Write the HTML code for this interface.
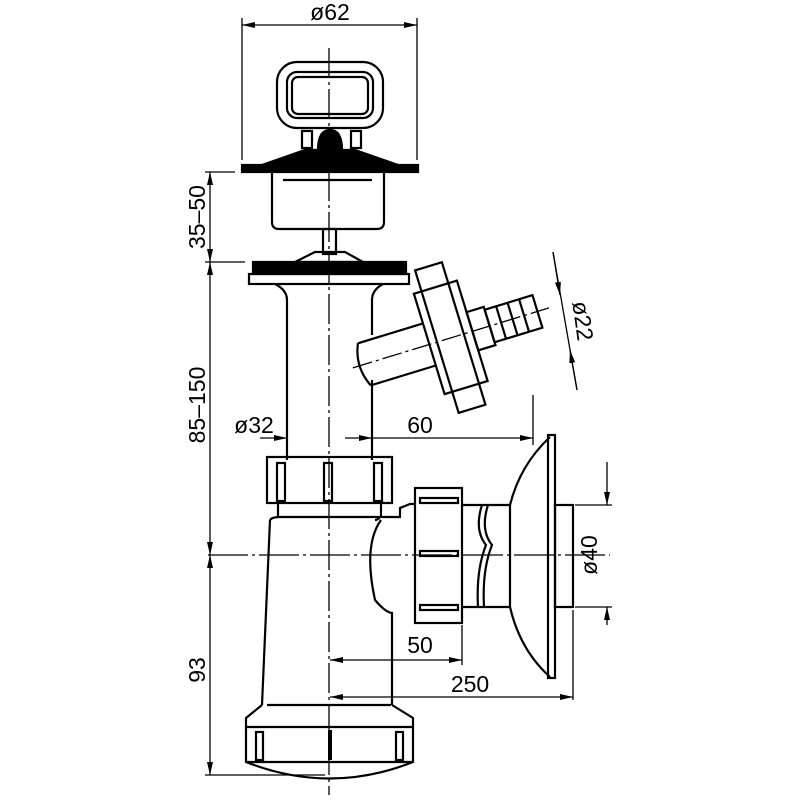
<!DOCTYPE html>
<html><head><meta charset="utf-8"><style>html,body{margin:0;background:#fff}svg{display:block}</style></head>
<body>
<svg width="800" height="800" viewBox="0 0 800 800" xmlns="http://www.w3.org/2000/svg" font-family="Liberation Sans, sans-serif">
<defs><marker id="a" markerWidth="13" markerHeight="6" refX="13" refY="3" orient="auto-start-reverse" markerUnits="userSpaceOnUse"><path d="M0,0 L13,3 L0,6z" fill="#000"/></marker></defs>
<g stroke="#000" fill="none" stroke-width="2.2">
<line x1="242" y1="18" x2="242" y2="160" stroke-width="1.3"/>
<line x1="417" y1="18" x2="417" y2="160" stroke-width="1.3"/>
<line x1="242" y1="25" x2="417" y2="25" stroke-width="1.3" marker-start="url(#a)" marker-end="url(#a)"/>
<rect x="277" y="62" width="106" height="66" rx="20"/>
<rect x="287" y="72" width="86" height="46" rx="10"/>
<rect x="292" y="77" width="76" height="37" rx="6"/>
<rect x="302" y="131" width="10" height="17"/>
<rect x="351" y="131" width="10" height="17"/>
<path d="M318,150 Q318,130 330,130 Q342,130 342,150z" fill="#000"/>
<path d="M262,165 L305,150 L355,150 L398,165z" fill="#000"/>
<rect x="242" y="165" width="176" height="7" fill="#000"/>
<path d="M272,172 V222 Q272,229 279,229 H377 Q384,229 384,222 V172"/>
<line x1="283" y1="180" x2="372" y2="180"/>
<rect x="323" y="229" width="13" height="25"/>
<path d="M295,262 L315,252 H345 L363,262z"/>
<rect x="253" y="262" width="153" height="12" fill="#000"/>
<rect x="249" y="274" width="160" height="10"/>
<path d="M275,284 Q287,290 287,300 V460 M383,284 Q372,290 372,300 V335 M372,380 V460"/>
<g transform="translate(12,4) rotate(-17 360 358)">
<path d="M352,336 H420 M352,380 H420 M352,336 Q342,358 352,380"/>
<rect x="420" y="305" width="45" height="105"/>
<rect x="428" y="283" width="28" height="149"/>
<rect x="465" y="338" width="18" height="40"/>
<rect x="483" y="341" width="50" height="34"/>
<line x1="495" y1="341" x2="495" y2="375"/><line x1="507" y1="341" x2="507" y2="375"/><line x1="519" y1="341" x2="519" y2="375"/>
<line x1="340" y1="358" x2="545" y2="358" stroke-width="1.3" stroke-dasharray="20,4,3,4"/>
</g>
<line x1="553" y1="252" x2="577" y2="390" stroke-width="1.3"/>
<line x1="553" y1="252" x2="560" y2="295" stroke-width="1.3" marker-end="url(#a)"/>
<line x1="577" y1="390" x2="570" y2="350" stroke-width="1.3" marker-end="url(#a)"/>
<line x1="533" y1="395" x2="533" y2="445" stroke-width="1.3"/>
<line x1="260" y1="438" x2="287" y2="438" stroke-width="1.3" marker-end="url(#a)"/>
<line x1="372" y1="438" x2="345" y2="438" stroke-width="1.3" marker-start="url(#a)"/>
<line x1="372" y1="438" x2="533" y2="438" stroke-width="1.3" marker-end="url(#a)"/>
<rect x="267" y="457" width="125" height="46"/>
<rect x="277" y="463" width="8" height="38"/><rect x="324" y="463" width="8" height="38"/><rect x="374" y="463" width="8" height="38"/>
<path d="M278,503 V518 M381,503 V518"/>
<path d="M270,520 Q272,517 280,517 H380 Q378,520 375,520 M270,520 L262,705 M381,520 Q363,545 375,600 Q385,612 392,613 V705 M382,517 H400 V508 L410,504 H415"/>
<rect x="415" y="488" width="47" height="135"/>
<rect x="420" y="498" width="38" height="5"/><rect x="420" y="551" width="38" height="5"/><rect x="420" y="605" width="38" height="5"/>
<path d="M462,505 H510 M462,607 H510"/>
<path d="M482,505 Q474,530 486,545 Q476,570 478,607 M488,505 Q480,530 492,545 Q482,570 484,607"/>
<path d="M510,505 Q520,465 550,437 M510,607 Q520,650 550,677 M510,505 V607"/>
<rect x="548" y="435" width="7" height="243"/>
<rect x="555" y="505" width="18" height="102"/>
<path d="M262,705 L246,718 V762 Q330,795 413,762 V718 L392,705"/>
<line x1="267" y1="705" x2="391" y2="705"/>
<line x1="246" y1="727" x2="413" y2="727"/>
<line x1="246" y1="762" x2="413" y2="762"/>
<rect x="256" y="732" width="7" height="28"/><rect x="396" y="732" width="7" height="28"/>
<line x1="330" y1="730" x2="330" y2="760" stroke-width="4"/>
<line x1="329" y1="48" x2="329" y2="795" stroke-width="1.3" stroke-dasharray="30,4,3,4"/>
<line x1="208" y1="555" x2="610" y2="555" stroke-width="1.3" stroke-dasharray="40,4,3,4"/>
<line x1="205" y1="172" x2="235" y2="172" stroke-width="1.3"/>
<line x1="205" y1="262" x2="245" y2="262" stroke-width="1.3"/>
<line x1="205" y1="775" x2="325" y2="775" stroke-width="1.3"/>
<line x1="210" y1="172" x2="210" y2="262" stroke-width="1.3" marker-start="url(#a)" marker-end="url(#a)"/>
<line x1="210" y1="262" x2="210" y2="555" stroke-width="1.3" marker-start="url(#a)" marker-end="url(#a)"/>
<line x1="210" y1="555" x2="210" y2="775" stroke-width="1.3" marker-start="url(#a)" marker-end="url(#a)"/>
<line x1="575" y1="505" x2="612" y2="505" stroke-width="1.3"/>
<line x1="575" y1="607" x2="612" y2="607" stroke-width="1.3"/>
<line x1="607" y1="462" x2="607" y2="505" stroke-width="1.3" marker-end="url(#a)"/>
<line x1="607" y1="625" x2="607" y2="607" stroke-width="1.3" marker-end="url(#a)"/>
<line x1="462" y1="625" x2="462" y2="665" stroke-width="1.3"/>
<line x1="573" y1="610" x2="573" y2="700" stroke-width="1.3"/>
<line x1="330" y1="660" x2="462" y2="660" stroke-width="1.3" marker-start="url(#a)" marker-end="url(#a)"/>
<line x1="330" y1="697" x2="573" y2="697" stroke-width="1.3" marker-start="url(#a)" marker-end="url(#a)"/>
</g>
<g font-size="23" fill="#000">
<text x="330" y="20" text-anchor="middle">ø62</text>
<text x="254" y="433" text-anchor="middle">ø32</text>
<text x="420" y="433" text-anchor="middle">60</text>
<text x="420" y="653" text-anchor="middle">50</text>
<text x="470" y="692" text-anchor="middle">250</text>
<text transform="translate(205,217) rotate(-90)" text-anchor="middle">35–50</text>
<text transform="translate(205,405) rotate(-90)" text-anchor="middle">85–150</text>
<text transform="translate(205,670) rotate(-90)" text-anchor="middle">93</text>
<text transform="translate(597,555) rotate(-90)" text-anchor="middle">ø40</text>
<text transform="translate(575,322) rotate(82)" text-anchor="middle">ø22</text>
</g>
</svg>
</body></html>
